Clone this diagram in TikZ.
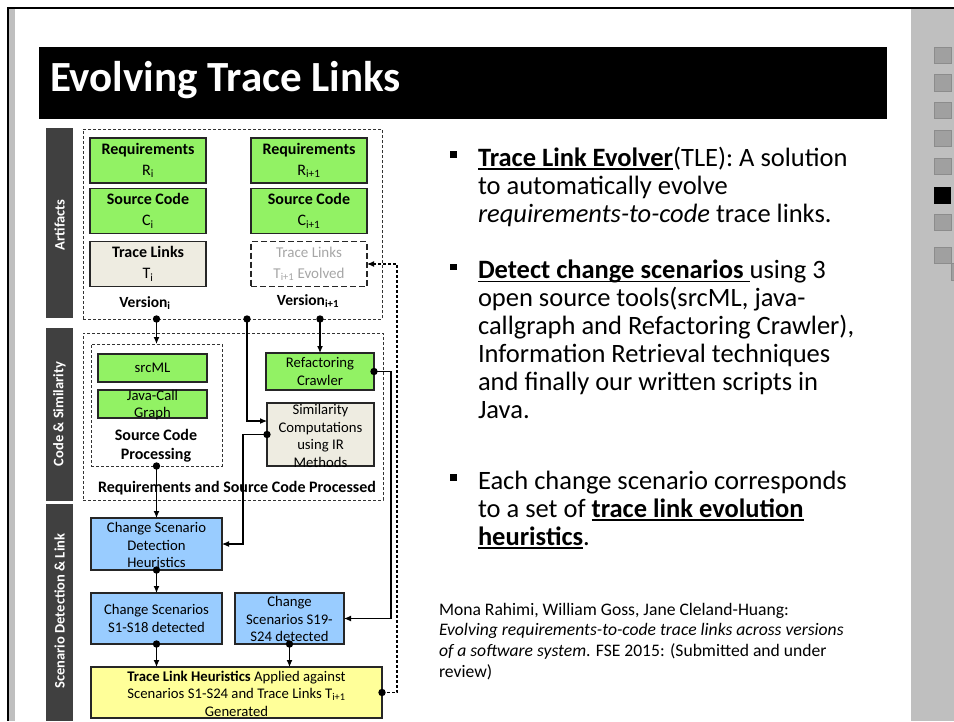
\documentclass[tikz,border=0pt]{standalone}
\usepackage{fontspec}
\setmainfont{Carlito}
\usetikzlibrary{arrows.meta,calc}

\newsavebox{\ulstore}
\newcommand{\ulfixed}[1]{\sbox{\ulstore}{#1}\leavevmode\rlap{\rule[-3.6pt]{\wd\ulstore}{1.4pt}}\usebox{\ulstore}}

\definecolor{boxgreen}{RGB}{146,242,100}
\definecolor{boxblue}{RGB}{153,204,255}
\definecolor{boxyellow}{RGB}{255,255,153}
\definecolor{boxbeige}{RGB}{238,236,225}
\definecolor{bardark}{RGB}{64,64,64}
\definecolor{sidegray}{RGB}{191,191,191}
\definecolor{navgray}{RGB}{160,160,160}
\definecolor{navedge}{RGB}{140,140,140}
\definecolor{ghost}{RGB}{166,166,166}

\tikzset{
  every node/.style={inner sep=0pt, outer sep=0pt},
  dfont/.style={font=\fontsize{14.7}{17.5}\selectfont},
  afont/.style={font=\fontsize{16}{21}\selectfont},
  bfont/.style={font=\fontsize{16}{19}\selectfont\bfseries},
  solidbox/.style={draw=black!85, line width=1.3pt, align=center, dfont},
  greenbox/.style={solidbox, fill=boxgreen},
  bluebox/.style={solidbox, fill=boxblue},
  yellowbox/.style={solidbox, fill=boxyellow},
  beigebox/.style={solidbox, fill=boxbeige},
  groupbox/.style={draw=black!80, line width=0.9pt, dash pattern=on 3pt off 2pt},
  ghostbox/.style={draw=black!85, line width=1.3pt, dash pattern=on 6pt off 3pt, fill=white, align=center, font=\fontsize{15}{21}\selectfont, text=ghost},
  boxtext/.style={align=center, dfont},
  bartext/.style={text=white, font=\fontsize{14.5}{17}\selectfont\bfseries},
  conn/.style={line width=1.1pt, draw=black, -{Latex[length=7pt,width=6pt]}},
  dconn/.style={conn, dash pattern=on 3pt off 2pt},
  bline/.style={anchor=base west, font=\fontsize{26.5}{28}\selectfont},
  rline/.style={anchor=base west, font=\fontsize{17.6}{20.7}\selectfont},
}

\begin{document}
\begin{tikzpicture}[x=1pt,y=-1pt]
\useasboundingbox (0,0) rectangle (954,721);
\fill[white] (0,0) rectangle (954,721);

% slide frame and navigation strip
\fill[black] (6.5,7) rectangle (954,9.2);
\fill[black] (6.5,7) rectangle (9,721);
\fill[sidegray] (9,9.2) rectangle (15,721);
\fill[sidegray] (911,9.2) rectangle (954,721);
\foreach \yy in {47,74.5,102,130,158,214,247}
  \filldraw[fill=navgray, draw=navedge, line width=0.6pt] (934,\yy) rectangle ++(17,16.5);
\fill[black] (934,187) rectangle ++(17,16.5);
\filldraw[fill=navgray, draw=navedge, line width=0.6pt] (951,263.5) rectangle ++(17,16.5);

% title bar
\fill[black] (39,47) rectangle (887,119);
\node[anchor=base west, text=white, font=\fontsize{43}{50}\selectfont\bfseries] (title) at (50,91) {Evolving Trace Links};

% stage bars
\fill[bardark] (46,128) rectangle (73,318);
\node[bartext, rotate=90] (labA) at (59.5,225) {Artifacts};
\fill[bardark] (46,328) rectangle (73,501);
\node[bartext, rotate=90] (labB) at (59.5,414) {Code \& Similarity};
\fill[bardark] (46,504) rectangle (73,721);
\node[bartext, rotate=90] (labC) at (59.5,611) {Scenario Detection \& Link};

% artifacts group
\node[groupbox, minimum width=299pt, minimum height=190pt] (artbox) at (232.5,224) {};
\node[greenbox, afont, minimum width=116pt, minimum height=45pt] (req1) at (148,160.5) {\textbf{Requirements}\\R\textsubscript{i}};
\node[greenbox, afont, minimum width=116pt, minimum height=45pt] (req2) at (309,160.5) {\textbf{Requirements}\\R\textsubscript{i+1}};
\node[greenbox, afont, minimum width=116pt, minimum height=45pt] (src1) at (148,211) {\textbf{Source Code}\\C\textsubscript{i}};
\node[greenbox, afont, minimum width=116pt, minimum height=45pt] (src2) at (309,211) {\textbf{Source Code}\\C\textsubscript{i+1}};
\node[beigebox, afont, minimum width=116pt, minimum height=45pt] (tl1) at (148,264) {\textbf{Trace Links}\\T\textsubscript{i}};
\node[ghostbox, minimum width=116pt, minimum height=45pt] (tl2) at (309,264) {Trace Links\\T\textsubscript{i+1} Evolved};
\node[font=\fontsize{15.5}{18}\selectfont\bfseries] (ver1) at (145,303) {Version\textsubscript{i}};
\node[font=\fontsize{15.5}{18}\selectfont\bfseries] (ver2) at (308,301) {Version\textsubscript{i+1}};

% code and similarity group
\node[groupbox, minimum width=300pt, minimum height=167pt] (codebox) at (233,416.5) {};
\node[groupbox, minimum width=131pt, minimum height=122pt] (srcproc) at (156.5,405) {};
\node[greenbox, minimum width=109pt, minimum height=28pt] (srcml) at (152.5,368) {srcML};
\node[greenbox, minimum width=109pt, minimum height=28pt] (jcg) at (152.5,404) {};
\node[boxtext] (jcgtext) at (152.5,405) {Java-Call\\Graph};
\node[bfont, align=center] (proctext) at (156,446) {Source Code\\Processing};
\node[greenbox, minimum width=108pt, minimum height=37pt] (refac) at (320,371.5) {Refactoring\\Crawler};
\node[beigebox, minimum width=107pt, minimum height=63pt] (sim) at (320.5,434.5) {};
\node[boxtext] (simtext) at (320.5,436) {Similarity\\Computations\\using IR\\Methods};
\node[bfont] (proced) at (237,488) {Requirements and Source Code Processed};

% scenario detection and link generation
\node[bluebox, minimum width=131pt, minimum height=52pt] (csdh) at (156.5,544) {};
\node[boxtext] (csdhtext) at (156.5,545) {Change Scenario\\Detection\\Heuristics};
\node[bluebox, minimum width=131pt, minimum height=51pt] (s118) at (156.5,618.5) {Change Scenarios\\S1-S18 detected};
\node[bluebox, minimum width=109pt, minimum height=51pt] (s19) at (289.5,618.5) {};
\node[boxtext] (s19text) at (289.5,619) {Change\\Scenarios S19-\\S24 detected};
\node[yellowbox, minimum width=291pt, minimum height=51pt] (yel) at (236.5,692.5) {};
\node[boxtext] (yeltext) at (236.5,693.5) {\textbf{Trace Link Heuristics} Applied against\\Scenarios S1-S24 and Trace Links T\textsubscript{i+1}\\Generated};

% connection points
\coordinate (d1) at (artbox.south -| srcproc.north);
\coordinate (d2) at ($(artbox.south)+(14.5,0)$);
\coordinate (d3) at (artbox.south -| refac.north);
\coordinate (simin) at ($(sim.west)+(0,-13.5)$);

% connectors
\draw[conn] (d1) -- (srcproc.north);
\draw[conn] (d2) |- (simin);
\draw[conn] (d3) -- (refac.north);
\draw[conn] (refac.east) -- ++(17,0) |- (s19.east);
\draw[conn] (sim.west) -- ++(-24,0) |- (csdh.east);
\draw[conn] (srcproc.south) -- (csdh.north);
\draw[conn] (csdh.south) -- (s118.north);
\draw[conn] (s118.south) -- (s118.south |- yel.north);
\draw[conn] (s19.south) -- (s19.south |- yel.north);
\draw[dconn] (yel.east) -- ++(15,0) |- (tl2.east);

% connector start dots
\foreach \p in {d1,d2,d3,refac.east,sim.west,srcproc.south,csdh.south,s118.south,s19.south,yel.east}
  \fill[black] (\p) circle[radius=3.7pt];

% bullet list
\fill[black] (450,151) rectangle ++(7,6.5);
\node[bline] (b1l1) at (478,166) {\ulfixed{\textbf{Trace Link Evolver}}(TLE): A solution};
\node[bline] (b1l2) at (478,194) {to automatically evolve};
\node[bline] (b1l3) at (478,222) {\textit{requirements-to-code} trace links.};
\fill[black] (450,263.5) rectangle ++(7,6.5);
\node[bline] (b2l1) at (478,278.5) {\ulfixed{\textbf{Detect change scenarios}\ }using 3};
\node[bline] (b2l2) at (478,306.5) {open source tools(srcML, java-};
\node[bline] (b2l3) at (478,334.5) {callgraph and Refactoring Crawler),};
\node[bline] (b2l4) at (478,362.5) {Information Retrieval techniques};
\node[bline] (b2l5) at (478,390.5) {and finally our written scripts in};
\node[bline] (b2l6) at (478,418.5) {Java.};
\fill[black] (450,474) rectangle ++(7,6.5);
\node[bline] (b3l1) at (478,489) {Each change scenario corresponds};
\node[bline] (b3l2) at (478,517) {to a set of \ulfixed{\textbf{trace link evolution}}};
\node[bline] (b3l3) at (478,545) {\ulfixed{\textbf{heuristics}}.};

% reference
\node[rline] (r1) at (439,615) {Mona Rahimi, William Goss, Jane Cleland-Huang:};
\node[rline] (r2) at (439,635.7) {\textit{Evolving requirements-to-code trace links across versions}};
\node[rline] (r3) at (439,656.4) {\textit{of a software system}. FSE 2015: (Submitted and under};
\node[rline] (r4) at (439,677.1) {review)};
\end{tikzpicture}
\end{document}
